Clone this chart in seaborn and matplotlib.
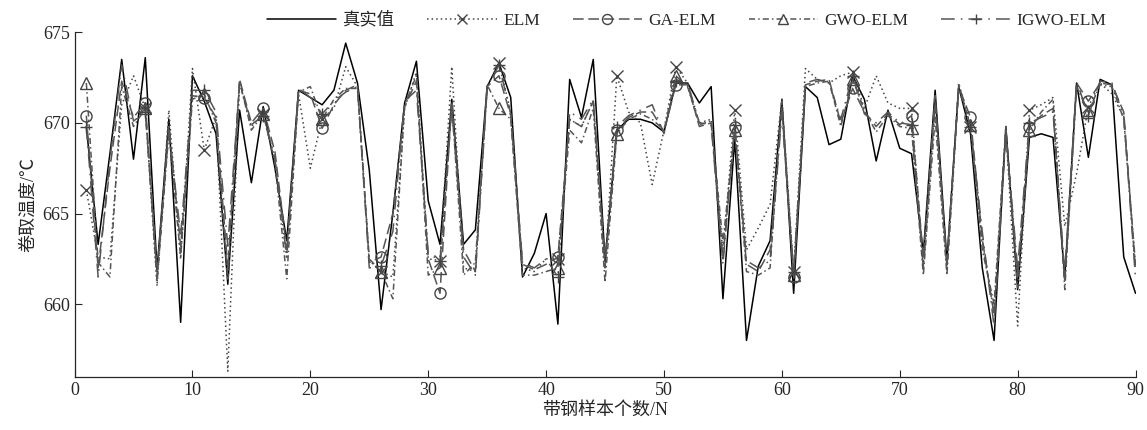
import numpy as np
import pandas as pd
import matplotlib
matplotlib.use("Agg")
import matplotlib.pyplot as plt
import seaborn as sns

# 带钢样本序号
samples = list(range(1, 91))

# 真实卷取温度
true_vals = [
    669.8, 663.3, 668.3, 673.5, 668.0, 673.6, 661.9, 670.2, 659.0, 672.6,
    671.2, 669.4, 661.1, 670.7, 666.7, 670.9, 667.5, 663.5, 671.8, 671.4,
    671.0, 671.8, 674.4, 672.2, 667.4, 659.7, 665.0, 671.1, 673.4, 665.7,
    663.3, 671.3, 663.3, 664.1, 672.0, 673.3, 671.4, 661.5, 662.8, 665.0,
    658.9, 672.4, 670.3, 673.5, 662.4, 669.6, 670.2, 670.2, 670.0, 669.5,
    672.2, 672.2, 671.1, 672.0, 660.3, 669.1, 658.0, 662.1, 663.5, 671.3,
    660.6, 672.0, 671.4, 668.8, 669.1, 672.6, 671.3, 667.9, 670.7, 668.6,
    668.3, 662.8, 671.8, 662.4, 672.0, 669.4, 662.0, 658.0, 669.8, 660.8,
    669.2, 669.4, 669.2, 661.5, 672.2, 668.1, 672.4, 672.1, 662.6, 660.6,
]

elm_vals = [
    666.3, 662.6, 662.5, 671.0, 672.6, 670.8, 661.0, 670.7, 662.5, 673.0,
    668.5, 670.3, 656.3, 672.2, 669.8, 670.5, 668.0, 662.5, 671.6, 667.5,
    670.2, 670.8, 673.1, 672.0, 662.4, 661.8, 661.5, 670.8, 672.8, 662.5,
    662.4, 673.1, 662.0, 661.8, 672.0, 673.3, 670.6, 662.0, 661.8, 662.5,
    662.5, 670.2, 669.8, 671.2, 662.0, 672.6, 670.6, 670.0, 666.6, 669.6,
    673.1, 672.2, 670.0, 670.2, 662.8, 670.7, 663.0, 664.2, 665.5, 671.3,
    661.8, 673.0, 672.4, 672.2, 672.6, 672.8, 670.8, 672.6, 671.1, 670.8,
    670.8, 662.0, 671.0, 662.0, 672.2, 669.8, 663.5, 659.5, 669.6, 658.8,
    670.7, 671.0, 671.4, 664.3, 667.2, 670.9, 672.2, 671.6, 670.3, 662.0,
]

ga_vals = [
    670.4, 662.0, 667.5, 672.3, 670.3, 671.1, 661.8, 669.8, 663.2, 671.5,
    671.4, 670.3, 662.0, 672.4, 670.0, 670.8, 668.4, 663.0, 671.8, 671.6,
    669.7, 671.0, 671.8, 672.1, 662.3, 662.6, 665.0, 670.9, 672.3, 662.5,
    660.6, 671.2, 663.0, 661.8, 672.0, 672.6, 670.4, 662.2, 661.9, 662.2,
    662.6, 670.2, 669.8, 671.2, 662.0, 669.6, 670.3, 670.6, 670.6, 669.5,
    672.1, 672.1, 669.8, 670.0, 662.5, 669.8, 662.2, 661.8, 663.0, 670.8,
    661.5, 672.1, 672.3, 672.4, 670.0, 671.9, 670.6, 669.8, 670.5, 669.9,
    670.4, 662.5, 671.5, 662.0, 672.0, 670.3, 663.6, 659.4, 669.6, 661.5,
    669.8, 670.4, 670.8, 661.2, 672.2, 671.2, 672.2, 672.1, 670.6, 661.8,
]

gwo_vals = [
    672.2, 662.3, 661.5, 672.0, 669.8, 670.8, 661.2, 669.5, 662.6, 671.3,
    671.6, 670.0, 661.3, 672.3, 669.6, 670.5, 667.8, 661.4, 671.7, 672.0,
    670.2, 671.3, 671.9, 671.9, 662.5, 661.8, 660.3, 671.0, 672.6, 661.6,
    662.0, 671.0, 661.6, 662.3, 672.1, 670.8, 670.2, 661.6, 661.6, 661.8,
    662.0, 669.6, 668.9, 670.8, 661.2, 669.4, 670.2, 670.5, 670.2, 669.6,
    672.6, 672.0, 669.9, 670.1, 663.4, 669.6, 661.8, 661.6, 662.0, 671.2,
    661.6, 672.0, 672.2, 672.3, 669.8, 672.4, 670.7, 669.5, 670.4, 669.8,
    669.7, 661.6, 670.3, 661.6, 671.9, 669.9, 663.0, 660.0, 669.8, 660.9,
    669.6, 670.6, 671.3, 660.8, 672.0, 670.6, 672.1, 672.0, 670.2, 662.2,
]

igwo_vals = [
    669.8, 661.5, 668.0, 673.2, 670.1, 670.6, 661.6, 669.6, 663.8, 671.8,
    671.8, 670.6, 663.2, 672.2, 669.9, 670.4, 668.0, 662.6, 671.9, 671.4,
    670.5, 671.2, 671.7, 672.0, 662.0, 662.1, 664.0, 671.2, 671.8, 662.8,
    662.4, 670.8, 662.6, 661.6, 671.9, 673.2, 670.5, 662.3, 662.0, 662.5,
    661.5, 670.6, 670.2, 671.3, 662.4, 669.8, 670.4, 670.7, 671.0, 669.4,
    672.3, 672.2, 670.0, 669.9, 662.2, 669.9, 662.4, 662.0, 662.4, 670.5,
    661.8, 672.2, 672.4, 672.2, 670.2, 672.6, 670.5, 670.0, 670.6, 670.0,
    669.9, 662.0, 671.0, 662.3, 672.1, 669.8, 664.0, 658.8, 669.4, 662.0,
    670.0, 670.3, 670.6, 661.7, 672.3, 670.4, 672.3, 672.2, 670.4, 661.4,
]

series_names = ["真实值", "ELM", "GA-ELM", "GWO-ELM", "IGWO-ELM"]
series_vals = [true_vals, elm_vals, ga_vals, gwo_vals, igwo_vals]

sns.set_style("ticks")
plt.rcParams["font.family"] = ["Liberation Serif", "Noto Sans CJK SC", "DejaVu Sans"]
plt.rcParams["axes.unicode_minus"] = False

fig = plt.figure(figsize=(11.47, 4.30), dpi=100)
ax = fig.add_axes([0.065, 0.124, 0.925, 0.801])

styles = [
    dict(color="black", linestyle="-", linewidth=1.1, marker=None),
    dict(color="#444444", linestyle=(0, (1, 2)), linewidth=1.1, marker="x"),
    dict(color="#555555", linestyle=(0, (7, 3)), linewidth=1.1, marker="o"),
    dict(color="#555555", linestyle=(0, (4, 2, 1, 2)), linewidth=1.1, marker="^"),
    dict(color="#555555", linestyle=(0, (9, 4, 1, 4)), linewidth=1.1, marker="+"),
]

for name, vals, st in zip(series_names, series_vals, styles):
    df = pd.DataFrame({"x": samples, "y": vals})
    kw = dict(st)
    mk = kw.pop("marker")
    if mk is not None:
        kw.update(marker=mk, markevery=5, markersize=8, markerfacecolor="none",
                  markeredgecolor="#444444", markeredgewidth=1.0)
    sns.lineplot(data=df, x="x", y="y", ax=ax, label=name, **kw)

ax.set_xlim(0, 90)
ax.set_ylim(656, 675)
ax.set_xticks(np.arange(0, 91, 10))
ax.set_yticks([660, 665, 670, 675])
ax.tick_params(direction="in", length=5, labelsize=13, width=0.8)
for s in ["top", "right"]:
    ax.spines[s].set_visible(False)
for s in ["left", "bottom"]:
    ax.spines[s].set_linewidth(0.9)

ax.set_xlabel("带钢样本个数/N", fontsize=13, labelpad=2)
ax.set_ylabel("卷取温度/℃", fontsize=13, labelpad=4)

ax.legend(loc="lower center", bbox_to_anchor=(0.577, 0.99), ncol=5, frameon=False,
          fontsize=12.5, handlelength=4.0, columnspacing=1.9, handletextpad=0.35,
          borderaxespad=0.0, markerscale=0.9)

fig.savefig("out.png", dpi=100)
plt.close(fig)
